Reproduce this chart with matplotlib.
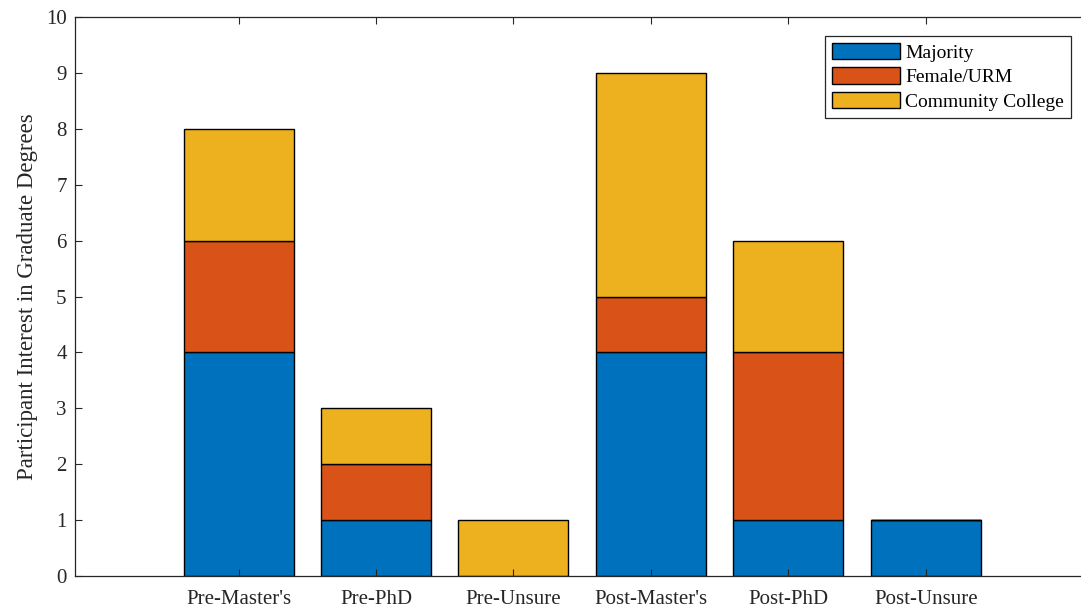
import numpy as np
import matplotlib.pyplot as plt

categories = ["Pre-Master's", "Pre-PhD", "Pre-Unsure", "Post-Master's", "Post-PhD", "Post-Unsure"]
majority = [4, 1, 0, 4, 1, 1]
female_urm = [2, 1, 0, 1, 3, 0]
community = [2, 1, 1, 4, 2, 0]
series_names = ["Majority", "Female/URM", "Community College"]
colors = ["#0072BD", "#D95319", "#EDB120"]

plt.rcParams['font.family'] = ['Liberation Serif', 'DejaVu Serif']
fg = '#262626'

fig = plt.figure(figsize=(10.81, 6.11), dpi=100)
ax = fig.add_axes([75 / 1081, 1 - 576 / 611, 1 - 75 / 1081, (576 - 17) / 611])

x = np.arange(1, len(categories) + 1)
bottom = np.zeros(len(categories))
for vals, name, c in zip([majority, female_urm, community], series_names, colors):
    ax.bar(x, vals, 0.8, bottom=bottom, color=c, edgecolor='black', linewidth=1.0, label=name)
    bottom += np.array(vals)

ax.set_xlim(-0.19, 7.13)
ax.set_ylim(0, 10)
ax.set_yticks(range(0, 11))
ax.set_xticks(x)
ax.set_xticklabels(categories)
ax.tick_params(direction='in', top=True, right=False, colors=fg, labelsize=15, length=5, width=0.8)
ax.tick_params(axis='x', pad=10)
ax.tick_params(axis='y', pad=6)
for s in ['left', 'bottom', 'top']:
    ax.spines[s].set_color(fg)
    ax.spines[s].set_linewidth(0.9)
ax.spines['right'].set_visible(False)
ax.set_ylabel("Participant Interest in Graduate Degrees", fontsize=16.5, color=fg, labelpad=6)

leg = ax.legend(loc='upper right', bbox_to_anchor=(1071 / 1081, 1 - 36 / 611), bbox_transform=fig.transFigure,
                fontsize=14, handlelength=3.5, handleheight=0.9, handletextpad=0.3,
                labelspacing=0.3, borderpad=0.35, borderaxespad=0, fancybox=False, framealpha=1)
leg.get_frame().set_edgecolor(fg)
leg.get_frame().set_linewidth(0.9)

fig.savefig('out.png', dpi=100)
